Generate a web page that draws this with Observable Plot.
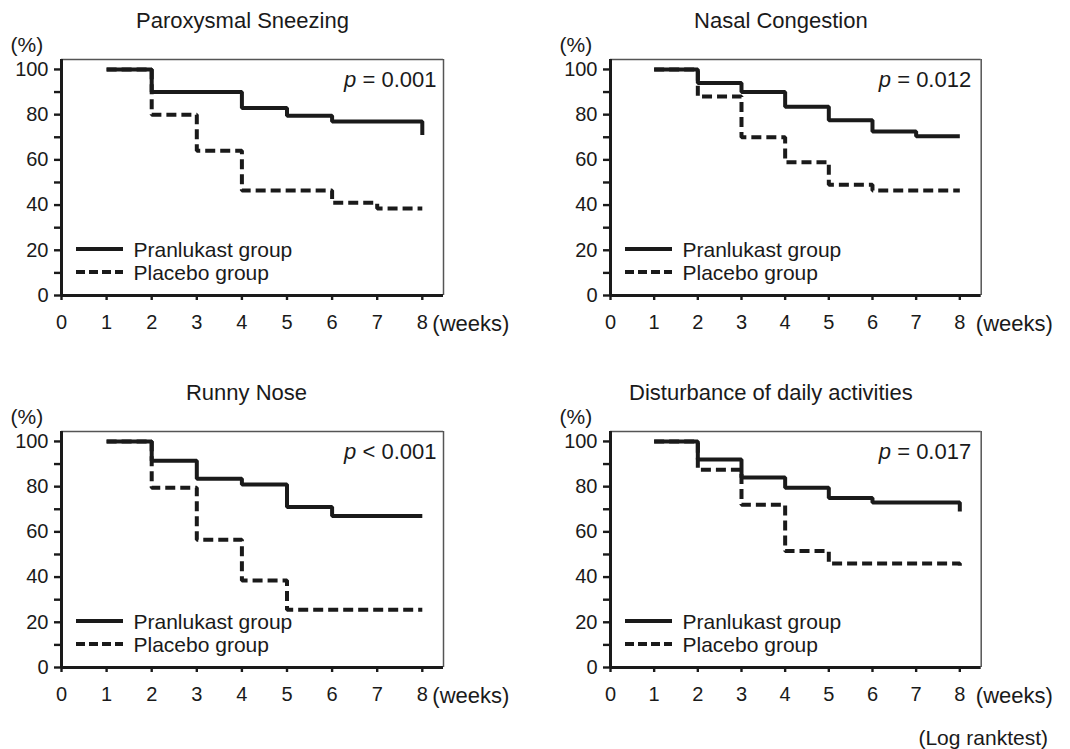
<!DOCTYPE html>
<html>
<head>
<meta charset="utf-8">
<script src="https://cdn.jsdelivr.net/npm/d3@7"></script>
<script src="https://cdn.jsdelivr.net/npm/@observablehq/plot@0.6"></script>
<style>
  body { margin: 0; background: #fff; }
  #root { position: relative; width: 1070px; height: 749px; font-family: "Liberation Sans", Arial, Helvetica, sans-serif; color: #1a1a1a; }
  .panel { position: absolute; }
  #note { position: absolute; right: 22px; top: 726px; font-size: 21px; line-height: 24px; }
</style>
</head>
<body>
<div id="root"></div>
<script>
// ---------- data ----------
const weeks = [1, 2, 3, 4, 5, 6, 7, 8];
const seriesNames = ["Pranlukast group", "Placebo group"];
const panelTitles = ["Paroxysmal Sneezing", "Nasal Congestion", "Runny Nose", "Disturbance of daily activities"];
const pValues = ["p = 0.001", "p = 0.012", "p < 0.001", "p = 0.017"];

const sneezingPranlukast = [100, 90, 90, 83, 79.5, 77, 77, 71];
const sneezingPlacebo    = [100, 80, 64, 46.5, 46.5, 41, 38.5, 38.5];
const congestionPranlukast = [100, 94, 90, 83.5, 77.5, 72.5, 70.5, 70.5];
const congestionPlacebo    = [100, 88, 70, 59, 49, 46.5, 46.5, 46.5];
const runnyPranlukast = [100, 91.5, 83.5, 81, 71, 67, 67, 67];
const runnyPlacebo    = [100, 79.5, 56.5, 38.5, 25.5, 25.5, 25.5, 25.5];
const dailyPranlukast = [100, 92, 84, 79.5, 75, 73, 73, 69];
const dailyPlacebo    = [100, 87.5, 72, 51.5, 46, 46, 46, 45];

const yMajorTicks = [0, 20, 40, 60, 80, 100];
const yMinorTicks = [10, 30, 50, 70, 90];
const xTicks = [0, 1, 2, 3, 4, 5, 6, 7, 8];
const xUnit = "(weeks)";
const yUnit = "(%)";
const footNote = "(Log ranktest)";

// ---------- layout ----------
const FONT = '"Liberation Sans", Arial, Helvetica, sans-serif';
const INK = "#1a1a1a";
const layouts = [
  {left: 0,   top: 0,   width: 530, mr: 87,   xMax: 8.47, titleDx: -10, weeksDx: 10, pDx: -7},
  {left: 549, top: 0,   width: 521, mr: 89.3, xMax: 8.49, titleDx: -15, weeksDx: 16, pDx: -10},
  {left: 0,   top: 372, width: 530, mr: 87,   xMax: 8.47, titleDx: -6,  weeksDx: 10, pDx: -7},
  {left: 549, top: 372, width: 521, mr: 89.3, xMax: 8.49, titleDx: -25, weeksDx: 16, pDx: -10}
];
const panelSeries = [
  [sneezingPranlukast, sneezingPlacebo],
  [congestionPranlukast, congestionPlacebo],
  [runnyPranlukast, runnyPlacebo],
  [dailyPranlukast, dailyPlacebo]
];
const Y_MAX = 104.4;
const DASH = "10,5";
const LW = 4;
const LEG1 = 45, LEG2 = 22;

const root = document.getElementById("root");

panelTitles.forEach((title, k) => {
  const L = layouts[k];
  const [pran, plac] = panelSeries[k];
  const pranData = weeks.map((w, i) => ({week: w, value: pran[i]}));
  const placData = weeks.map((w, i) => ({week: w, value: plac[i]}));

  const plot = Plot.plot({
    width: L.width,
    height: 345,
    marginLeft: 61,
    marginRight: L.mr,
    marginTop: 59,
    marginBottom: 50,
    x: {domain: [0, L.xMax]},
    y: {domain: [0, Y_MAX]},
    style: {fontFamily: FONT, fontSize: "20px", color: INK, background: "white", overflow: "visible"},
    marks: [
      // thin top / right frame edges
      Plot.ruleY([Y_MAX], {stroke: "#555", strokeWidth: 1.5}),
      Plot.ruleX([L.xMax], {stroke: "#555", strokeWidth: 1.5}),
      // y axis ticks
      Plot.axisY(yMajorTicks, {tickSize: 7, tickPadding: 6, strokeWidth: 2.4, fontSize: 20, label: null}),
      Plot.axisY(yMinorTicks, {tickSize: 7, strokeWidth: 2.4, tickFormat: () => "", label: null}),
      // x axis
      Plot.axisX(xTicks, {tickSize: 5, tickPadding: 14, strokeWidth: 2.4, fontSize: 20, label: null}),
      // thick left / bottom axis lines
      Plot.ruleX([0], {stroke: INK, strokeWidth: 3}),
      Plot.ruleY([0], {stroke: INK, strokeWidth: 3}),
      // survival curves
      Plot.line(placData, {x: "week", y: "value", curve: "step-after", stroke: INK, strokeWidth: LW,
        strokeDasharray: DASH, strokeLinecap: "butt", strokeLinejoin: "miter"}),
      Plot.line(pranData, {x: "week", y: "value", curve: "step-after", stroke: INK, strokeWidth: LW,
        strokeLinecap: "butt", strokeLinejoin: "miter"}),
      // title
      Plot.text([title], {frameAnchor: "top", dx: L.titleDx, dy: -39, lineAnchor: "middle", fontSize: 22, fill: INK}),
      // unit labels
      Plot.text([yUnit], {frameAnchor: "top-left", dx: -51, dy: -14, textAnchor: "start", lineAnchor: "middle", fontSize: 21, fill: INK}),
      Plot.text([xUnit], {x: () => 8, frameAnchor: "bottom", dx: L.weeksDx, dy: 28, textAnchor: "start", lineAnchor: "middle", fontSize: 22, fill: INK}),
      // p value
      Plot.text([pValues[k]], {frameAnchor: "top-right", dx: L.pDx, dy: 20, textAnchor: "end", lineAnchor: "middle", fontSize: 22, fill: INK}),
      // legend labels
      Plot.text([seriesNames[0]], {frameAnchor: "bottom-left", dx: 72, dy: -LEG1, textAnchor: "start", lineAnchor: "middle", fontSize: 21, fill: INK}),
      Plot.text([seriesNames[1]], {frameAnchor: "bottom-left", dx: 72, dy: -LEG2, textAnchor: "start", lineAnchor: "middle", fontSize: 21, fill: INK})
    ]
  });

  // legend swatches positioned from the plot's own scales
  const xs = plot.scale("x").range;
  const ys = plot.scale("y").range;
  const fx = Math.min(xs[0], xs[1]);
  const fb = Math.max(ys[0], ys[1]);
  const svg = d3.select(plot);
  svg.append("line").attr("x1", fx + 15).attr("x2", fx + 62).attr("y1", fb - LEG1 - 1).attr("y2", fb - LEG1 - 1)
    .attr("stroke", INK).attr("stroke-width", LW);
  svg.append("line").attr("x1", fx + 15).attr("x2", fx + 62).attr("y1", fb - LEG2 - 1).attr("y2", fb - LEG2 - 1)
    .attr("stroke", INK).attr("stroke-width", LW).attr("stroke-dasharray", "9,4");

  // italic p
  plot.querySelectorAll("text").forEach(t => {
    const s = t.textContent;
    if (/^p [=<]/.test(s)) {
      t.textContent = "";
      d3.select(t).append("tspan").attr("font-style", "italic").text("p");
      d3.select(t).append("tspan").text(s.slice(1));
    }
  });

  plot.classList.add("panel");
  plot.style.left = L.left + "px";
  plot.style.top = L.top + "px";
  root.appendChild(plot);
});

const note = document.createElement("div");
note.id = "note";
note.textContent = footNote;
root.appendChild(note);
</script>
</body>
</html>
